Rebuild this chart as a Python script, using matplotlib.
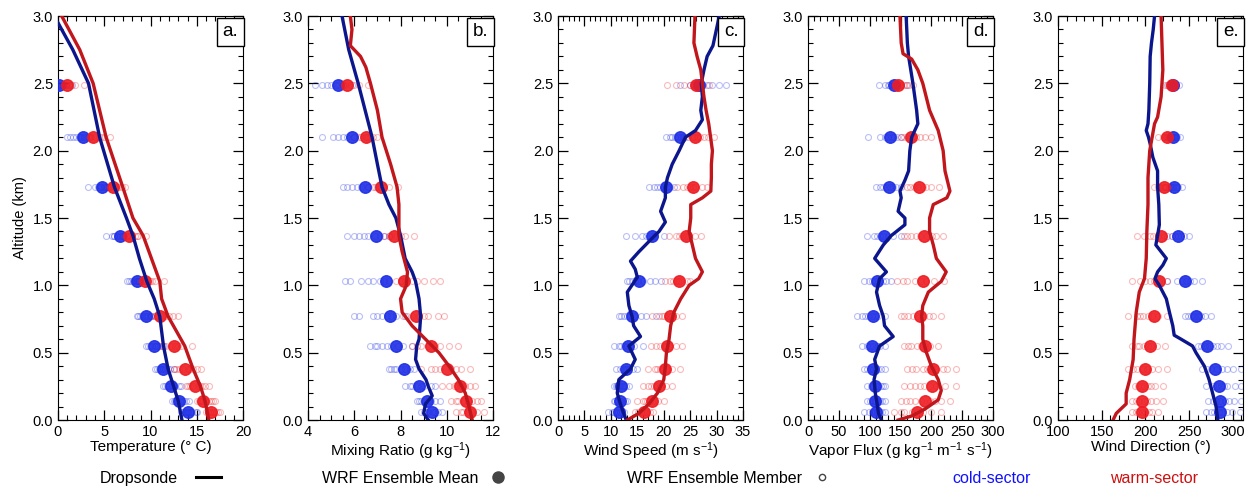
import numpy as np
import matplotlib
matplotlib.use('Agg')
import matplotlib.pyplot as plt
from matplotlib.lines import Line2D
from matplotlib.ticker import MultipleLocator

plt.rcParams['font.family'] = ['Liberation Sans', 'DejaVu Sans']
plt.rcParams['mathtext.default'] = 'regular'

# altitude levels (km) of the WRF ensemble samples
ens_z = [0.06, 0.14, 0.25, 0.38, 0.55, 0.77, 1.03, 1.37, 1.73, 2.10, 2.49]

# ---------------- a. temperature ----------------
temp_cold_z = [0.0, 0.14, 0.25, 0.38, 0.55, 0.77, 0.9, 1.03, 1.2, 1.37, 1.5, 1.73, 2.1, 2.5, 2.75, 2.95]
temp_cold_x = [13.4, 13.0, 12.5, 11.9, 11.4, 11.0, 10.4, 9.6, 8.8, 8.1, 7.4, 6.1, 4.5, 3.3, 1.6, 0.0]
temp_warm_z = [0.0, 0.14, 0.25, 0.38, 0.55, 0.77, 0.9, 1.03, 1.2, 1.37, 1.5, 1.73, 2.1, 2.5, 2.75, 3.0]
temp_warm_x = [16.3, 15.9, 15.4, 14.6, 13.7, 11.9, 11.2, 11.0, 10.1, 9.2, 8.1, 7.0, 5.2, 3.8, 2.35, 0.4]
temp_cold_mean = [14.1, 13.1, 12.2, 11.3, 10.4, 9.5, 8.5, 6.7, 4.8, 2.7, 0.1]
temp_warm_mean = [16.5, 15.7, 14.8, 13.7, 12.5, 11.0, 9.4, 7.7, 5.9, 3.8, 1.0]
temp_cold_mem = [[13.3, 13.5, 13.7, 13.9, 14.1, 14.3, 14.5, 14.9, 15.0],
                 [12.3, 12.5, 12.7, 12.9, 13.2, 13.4, 13.6, 13.8, 14.2],
                 [11.3, 11.6, 11.8, 12.0, 12.3, 12.5, 12.7, 13.1, 13.3],
                 [10.5, 10.7, 10.9, 11.1, 11.4, 11.6, 11.9, 12.1, 12.5],
                 [9.5, 9.7, 9.9, 10.2, 10.5, 10.6, 10.8, 11.2, 11.5],
                 [8.5, 8.7, 8.9, 9.1, 9.4, 9.6, 9.9, 10.1, 10.5],
                 [7.5, 7.7, 7.9, 8.1, 8.4, 8.6, 8.8, 9.3, 9.5],
                 [5.2, 5.8, 6.0, 6.1, 6.4, 6.7, 6.9, 7.1, 7.5],
                 [3.2, 4.0, 4.3, 4.5, 4.7, 5.1, 5.3, 5.5],
                 [1.0, 1.3, 1.6, 2.0, 2.3, 2.5, 2.8, 3.2, 3.5],
                 [0.0, 0.3, 0.5, 0.7, 0.9, 1.2, 1.5]]
temp_warm_mem = [[16.0, 16.2, 16.4, 16.6, 16.9, 17.1, 17.3, 17.5],
                 [15.0, 15.2, 15.4, 15.6, 16.0, 16.3, 16.5, 16.7, 17.0],
                 [13.8, 14.1, 14.3, 14.6, 15.1, 15.4, 15.6, 15.9, 16.3],
                 [12.5, 12.8, 13.1, 13.5, 14.0, 14.3, 14.6, 15.0, 15.5],
                 [11.0, 11.4, 11.7, 12.2, 12.7, 13.0, 13.3, 14.5],
                 [10.0, 10.4, 10.7, 11.2, 11.7, 12.0, 12.4, 13.0],
                 [8.5, 8.8, 9.1, 9.5, 9.9, 10.2, 10.5, 11.5],
                 [7.0, 7.3, 7.6, 7.8, 8.3, 8.5, 8.7, 9.5],
                 [5.0, 5.3, 5.6, 6.0, 6.4, 6.6, 6.9, 7.2],
                 [3.0, 3.3, 3.6, 4.0, 4.4, 4.7, 5.0, 5.6],
                 [0.5, 0.7, 0.9, 1.4, 1.8, 2.8]]

# ---------------- b. mixing ratio ----------------
mix_cold_z = [0.0, 0.05, 0.12, 0.18, 0.25, 0.3, 0.38, 0.45, 0.55, 0.6, 0.77, 0.9, 1.03, 1.1, 1.2, 1.37, 1.5, 1.6, 1.73, 1.9, 2.1, 2.5, 2.75, 3.0]
mix_cold_x = [9.2, 9.0, 9.08, 9.37, 9.2, 9.1, 8.8, 8.65, 8.7, 8.8, 8.87, 8.8, 8.65, 8.5, 8.2, 8.0, 7.8, 7.5, 7.2, 7.0, 6.77, 6.17, 5.76, 5.47]
mix_warm_z = [0.0, 0.1, 0.2, 0.3, 0.4, 0.5, 0.6, 0.7, 0.8, 0.9, 1.0, 1.1, 1.25, 1.37, 1.5, 1.6, 1.73, 1.9, 2.1, 2.3, 2.5, 2.62, 2.7, 2.78, 2.9, 3.0]
mix_warm_x = [11.1, 10.96, 10.8, 10.5, 10.1, 9.66, 9.08, 8.5, 8.07, 8.0, 8.25, 8.3, 8.07, 7.93, 7.93, 7.93, 7.85, 7.57, 7.2, 7.0, 6.7, 6.5, 6.27, 5.83, 5.9, 5.83]
mix_cold_mean = [9.35, 9.15, 8.8, 8.15, 7.8, 7.55, 7.35, 6.95, 6.45, 5.9, 5.3]
mix_warm_mean = [11.0, 10.85, 10.55, 10.0, 9.3, 8.65, 8.15, 7.7, 7.15, 6.5, 5.7]
mix_cold_mem = [[8.9, 9.0, 9.1, 9.2, 9.4, 9.5, 9.6, 9.8],
                [8.7, 8.8, 8.9, 9.0, 9.2, 9.3, 9.5, 9.7],
                [8.2, 8.4, 8.5, 8.7, 8.9, 9.0, 9.3, 9.5],
                [7.5, 7.6, 7.7, 7.8, 8.0, 8.2, 8.4, 8.6],
                [6.7, 6.9, 7.0, 7.2, 7.4, 7.6, 7.9, 8.1, 8.5],
                [6.0, 6.2, 6.8, 7.0, 7.2, 7.4, 7.6, 7.8, 8.2],
                [5.6, 5.8, 6.3, 6.6, 6.8, 7.1, 7.3, 7.5, 8.0],
                [5.7, 6.0, 6.2, 6.4, 6.6, 6.9, 7.1, 7.3, 7.5],
                [5.5, 5.7, 5.9, 6.1, 6.3, 6.6, 7.0],
                [4.6, 5.1, 5.3, 5.5, 5.7, 6.0, 6.5],
                [4.3, 4.6, 4.8, 5.0, 5.2, 5.5, 5.9]]
mix_warm_mem = [[10.4, 10.6, 10.7, 10.9, 11.1, 11.3, 11.6],
                [10.2, 10.4, 10.5, 10.7, 10.9, 11.1, 11.3, 11.5],
                [9.8, 10.1, 10.3, 10.4, 10.6, 10.8, 11.0, 11.2],
                [8.9, 9.3, 9.5, 9.7, 10.2, 10.4, 10.6, 11.0],
                [8.5, 8.7, 8.9, 9.2, 9.5, 9.7, 10.1, 10.5],
                [8.1, 8.3, 8.5, 8.8, 9.0, 9.2, 9.6, 9.9],
                [7.8, 8.0, 8.2, 8.5, 8.7, 9.0, 9.4, 9.7],
                [7.3, 7.5, 7.6, 7.8, 8.0, 8.2, 8.6],
                [6.6, 6.8, 6.9, 7.1, 7.3, 7.5, 7.9],
                [6.0, 6.2, 6.3, 6.6, 6.7, 6.8, 7.0],
                [5.3, 5.5, 5.6, 5.8, 6.0, 6.2, 6.6]]

# ---------------- c. wind speed ----------------
ws_cold_z = [0.0, 0.05, 0.12, 0.2, 0.3, 0.38, 0.45, 0.55, 0.62, 0.7, 0.77, 0.85, 0.95, 1.06, 1.12, 1.18, 1.25, 1.35, 1.4, 1.47, 1.55, 1.65, 1.73, 1.8, 1.9, 2.0, 2.1, 2.15, 2.23, 2.3, 2.4, 2.5, 2.6, 2.7, 2.78, 3.0]
ws_cold_x = [12.9, 12.4, 11.8, 11.2, 11.5, 13.7, 14.6, 13.4, 15.6, 14.3, 14.0, 13.4, 13.1, 15.0, 14.6, 13.7, 15.3, 17.8, 19.1, 20.3, 19.4, 20.3, 20.3, 20.7, 21.6, 22.9, 24.1, 26.0, 27.3, 27.0, 27.3, 27.1, 27.6, 28.2, 29.3, 30.5]
ws_warm_z = [0.0, 0.05, 0.12, 0.2, 0.3, 0.4, 0.5, 0.6, 0.7, 0.8, 0.9, 1.0, 1.05, 1.1, 1.2, 1.3, 1.4, 1.5, 1.6, 1.65, 1.7, 1.8, 1.9, 2.0, 2.2, 2.3, 2.4, 2.5, 2.6, 2.7, 2.8, 3.0]
ws_warm_x = [13.1, 15.3, 17.2, 18.8, 20.0, 20.3, 20.5, 21.0, 21.3, 21.9, 23.2, 24.8, 26.6, 27.3, 26.0, 25.4, 24.8, 25.1, 25.1, 27.3, 28.9, 29.0, 29.0, 29.2, 28.5, 28.0, 27.6, 27.3, 27.0, 26.3, 25.7, 25.9]
ws_cold_mean = [11.5, 11.7, 12.0, 12.9, 13.3, 14.0, 15.4, 17.8, 20.5, 23.0, 26.7]
ws_warm_mean = [16.3, 17.7, 19.1, 20.3, 20.6, 21.1, 22.9, 24.2, 25.5, 25.9, 26.1]
ws_cold_mem = [[9.5, 10.3, 10.6, 10.9, 11.4, 11.8, 12.1, 12.5],
               [10.5, 10.8, 11.1, 11.4, 11.7, 12.0, 12.6, 13.0],
               [10.5, 10.9, 11.2, 11.6, 12.1, 12.4, 12.9, 13.5],
               [11.0, 11.7, 12.2, 12.6, 13.1, 13.5, 14.1, 15.0],
               [10.5, 11.6, 12.0, 12.4, 13.0, 13.6, 14.4, 16.0],
               [11.5, 12.0, 12.4, 13.0, 13.6, 14.4, 15.6, 16.7, 18.5],
               [13.0, 13.5, 13.9, 14.5, 15.1, 16.0, 17.3, 18.4, 19.5],
               [12.8, 14.6, 15.9, 16.6, 17.3, 17.9, 18.4, 20.0],
               [17.2, 18.1, 18.7, 19.3, 20.0, 20.6, 21.1, 22.0],
               [20.5, 21.2, 21.6, 22.1, 22.7, 23.3, 23.7, 24.5],
               [23.0, 24.9, 25.8, 26.6, 27.4, 28.2, 29.1, 30.4, 31.8]]
ws_warm_mem = [[14.5, 15.1, 15.6, 16.0, 16.5, 16.9, 17.4, 18.0],
               [15.0, 16.1, 16.5, 16.9, 17.4, 18.1, 18.9, 20.0],
               [16.0, 17.1, 17.6, 18.1, 18.8, 19.4, 20.4, 21.5],
               [17.0, 18.3, 18.8, 19.3, 19.9, 20.6, 21.6, 23.0],
               [17.5, 18.6, 19.3, 20.0, 20.5, 20.9, 22.3, 23.5],
               [17.7, 19.1, 19.7, 20.1, 20.8, 21.4, 22.4, 23.5],
               [20.2, 21.1, 21.7, 22.3, 22.7, 23.1, 24.3, 25.0],
               [21.0, 22.4, 22.9, 23.4, 24.2, 24.8, 25.9, 27.0],
               [22.5, 23.6, 24.4, 25.0, 25.5, 25.9, 27.3, 28.2],
               [24.0, 25.3, 25.8, 26.3, 26.9, 27.6, 28.4, 29.5],
               [20.7, 22.4, 23.9, 25.0, 25.6, 26.4, 26.9, 28.5]]

# ---------------- d. vapor flux ----------------
vf_cold_z = [0.0, 0.05, 0.12, 0.2, 0.3, 0.38, 0.45, 0.55, 0.62, 0.7, 0.77, 0.85, 0.95, 1.05, 1.1, 1.2, 1.3, 1.37, 1.45, 1.5, 1.55, 1.65, 1.7, 1.78, 1.85, 2.0, 2.1, 2.2, 2.3, 2.5, 2.7, 2.8, 3.0]
vf_cold_x = [119, 114, 112, 109, 107, 111, 108, 116, 138, 124, 122, 116, 111, 116, 127, 108, 122, 135, 157, 157, 146, 151, 149, 157, 163, 165, 168, 178, 176, 170, 163, 161, 159]
vf_warm_z = [0.0, 0.03, 0.08, 0.15, 0.22, 0.3, 0.4, 0.5, 0.6, 0.7, 0.77, 0.85, 0.95, 1.03, 1.1, 1.2, 1.3, 1.4, 1.5, 1.6, 1.65, 1.7, 1.85, 2.0, 2.15, 2.3, 2.5, 2.6, 2.68, 2.72, 2.8, 3.0]
vf_warm_x = [146, 168, 189, 211, 216, 211, 200, 192, 186, 186, 184, 186, 195, 216, 224, 208, 203, 197, 197, 203, 225, 230, 222, 219, 211, 197, 186, 178, 168, 154, 151, 149]
vf_cold_mean = [110, 109, 109, 106, 104, 105, 112, 123, 131, 133, 140]
vf_warm_mean = [177, 190, 201, 202, 189, 181, 187, 188, 180, 167, 146]
vf_cold_mem = [[90, 98, 103, 108, 112, 117, 120, 125],
               [95, 100, 105, 108, 113, 117, 120, 125],
               [95, 102, 106, 110, 114, 118, 121, 125],
               [90, 96, 101, 105, 110, 114, 119, 125],
               [88, 96, 101, 106, 111, 114, 117, 125],
               [80, 87, 93, 97, 103, 108, 114, 125],
               [90, 98, 104, 109, 116, 121, 127, 135],
               [95, 107, 112, 116, 122, 129, 138, 150],
               [110, 117, 122, 127, 133, 137, 143, 150],
               [97, 116, 124, 130, 136, 140, 144, 150],
               [115, 125, 129, 132, 138, 143, 150, 160]]
vf_warm_mem = [[140, 150, 156, 168, 176, 186, 199, 215],
               [150, 159, 165, 174, 183, 197, 205, 215, 230],
               [155, 165, 173, 182, 188, 197, 207, 222, 240],
               [160, 168, 175, 186, 193, 201, 207, 218, 225, 240],
               [155, 162, 167, 176, 183, 189, 198, 210],
               [150, 156, 162, 170, 177, 188, 196, 203, 215],
               [145, 154, 161, 174, 183, 191, 204, 220],
               [155, 161, 167, 175, 182, 193, 201, 208, 218],
               [160, 166, 171, 179, 186, 191, 199, 212],
               [150, 156, 161, 169, 175, 181, 189, 200],
               [140, 144, 147, 151, 155, 159, 163, 170]]

# ---------------- e. wind direction ----------------
wd_cold_z = [0.0, 0.1, 0.2, 0.3, 0.4, 0.5, 0.55, 0.6, 0.63, 0.7, 0.8, 0.9, 1.0, 1.05, 1.1, 1.15, 1.2, 1.25, 1.3, 1.37, 1.45, 1.6, 1.73, 1.85, 1.95, 2.05, 2.1, 2.15, 2.2, 2.3, 2.5, 2.7, 2.8, 2.9, 3.0]
wd_cold_x = [283, 281, 277, 273, 267.6, 258, 254, 241, 233, 231.4, 227.6, 224, 216, 211, 214, 220, 224, 218, 212, 214, 216, 215.4, 214, 214, 208.6, 205.5, 203.6, 201, 203, 204, 205, 205.5, 207, 209, 210.5]
wd_warm_z = [0.0, 0.05, 0.12, 0.2, 0.3, 0.45, 0.6, 0.8, 0.95, 1.05, 1.2, 1.4, 1.6, 1.8, 2.0, 2.2, 2.25, 2.4, 2.6, 2.8, 3.0]
wd_warm_x = [163, 166.7, 178, 178, 182, 186, 187, 189.5, 193, 199, 201, 201.7, 203, 203, 205, 210.5, 214, 218, 220, 219, 218]
wd_cold_mean = [286, 285, 284, 280, 271, 258, 245, 237, 233, 232, 232]
wd_warm_mean = [196, 196, 196, 200, 205, 210, 216, 218, 221, 225, 230]
wd_cold_mem = [[270, 275, 279, 284, 288, 293, 299, 308],
               [272, 277, 281, 286, 291, 296, 302, 310],
               [270, 277, 282, 287, 290, 293, 303, 310],
               [265, 271, 275, 282, 288, 293, 300, 310],
               [260, 264, 268, 273, 278, 282, 287, 295],
               [245, 249, 252, 256, 260, 264, 268, 275],
               [225, 236, 242, 246, 251, 256, 265],
               [225, 231, 234, 237, 241, 244, 250],
               [222, 227, 229, 232, 235, 237, 242],
               [225, 229, 230, 233, 235, 236, 240],
               [225, 229, 230, 232, 234, 235, 238]]
wd_warm_mem = [[185, 189, 192, 196, 200, 204, 208, 215],
               [185, 189, 193, 198, 202, 207, 212, 220],
               [188, 192, 195, 199, 203, 207, 211, 220],
               [180, 186, 190, 197, 202, 208, 215, 225],
               [185, 190, 193, 198, 203, 207, 213, 222],
               [180, 190, 194, 197, 203, 208, 215, 225],
               [185, 194, 200, 205, 210, 216, 225],
               [190, 199, 205, 209, 215, 221, 230],
               [210, 215, 217, 220, 223, 224, 228],
               [215, 220, 221, 224, 226, 227, 232],
               [222, 226, 227, 230, 232, 232, 235]]

panels = [
    ('a.', 'Temperature (° C)', (0, 20), 5, 1,
     temp_cold_z, temp_cold_x, temp_warm_z, temp_warm_x,
     temp_cold_mean, temp_warm_mean, temp_cold_mem, temp_warm_mem),
    ('b.', 'Mixing Ratio (g kg$^{-1}$)', (4, 12), 2, 0.5,
     mix_cold_z, mix_cold_x, mix_warm_z, mix_warm_x,
     mix_cold_mean, mix_warm_mean, mix_cold_mem, mix_warm_mem),
    ('c.', 'Wind Speed (m s$^{-1}$)', (0, 35), 5, 1,
     ws_cold_z, ws_cold_x, ws_warm_z, ws_warm_x,
     ws_cold_mean, ws_warm_mean, ws_cold_mem, ws_warm_mem),
    ('d.', 'Vapor Flux (g kg$^{-1}$ m$^{-1}$ s$^{-1}$)', (0, 300), 50, 10,
     vf_cold_z, vf_cold_x, vf_warm_z, vf_warm_x,
     vf_cold_mean, vf_warm_mean, vf_cold_mem, vf_warm_mem),
    ('e.', 'Wind Direction (°)', (100, 312), 50, 10,
     wd_cold_z, wd_cold_x, wd_warm_z, wd_warm_x,
     wd_cold_mean, wd_warm_mean, wd_cold_mem, wd_warm_mem),
]

cold_line = '#0c168c'
warm_line = '#c0161c'
cold_dot = '#1e2ee6'
warm_dot = '#ee1c22'

fig = plt.figure(figsize=(12.47, 4.93), dpi=100)

for i, (lab, xlab, xlim, maj, mnr, cz, cx, wz, wx, cm, wm, cmem, wmem) in enumerate(panels):
    ax = fig.add_axes([0.0465 + i * 0.2005, 0.148, 0.1484, 0.8195])
    for color, mem in ((cold_dot, cmem), (warm_dot, wmem)):
        for z, vals in zip(ens_z, mem):
            ax.plot(vals, [z] * len(vals), 'o', ms=4.3, mfc='none', mec=color,
                    mew=0.8, alpha=0.3, zorder=2)
    ax.plot(cm, ens_z, 'o', ms=8.3, color=cold_dot, alpha=0.9, zorder=3)
    ax.plot(wm, ens_z, 'o', ms=8.3, color=warm_dot, alpha=0.9, zorder=3)
    ax.plot(cx, cz, color=cold_line, lw=2.4, zorder=4)
    ax.plot(wx, wz, color=warm_line, lw=2.4, zorder=4)

    ax.set_xlim(*xlim)
    ax.set_ylim(0, 3)
    ax.xaxis.set_major_locator(MultipleLocator(maj))
    ax.xaxis.set_minor_locator(MultipleLocator(mnr))
    ax.yaxis.set_major_locator(MultipleLocator(0.5))
    ax.yaxis.set_minor_locator(MultipleLocator(0.1))
    ax.yaxis.set_major_formatter(matplotlib.ticker.FormatStrFormatter('%.1f'))
    ax.tick_params(which='both', direction='in', top=True, right=True, labelsize=10.5)
    ax.tick_params(which='major', length=7, width=0.9)
    ax.tick_params(which='minor', length=3.5, width=0.8)
    ax.set_xlabel(xlab, fontsize=11, labelpad=1)
    if i == 0:
        ax.set_ylabel('Altitude (km)', fontsize=10.5)
    ax.text(0.975, 0.982, lab, transform=ax.transAxes, ha='right', va='top',
            fontsize=13.5, zorder=10,
            bbox=dict(boxstyle='square,pad=0.3', fc='white', ec='black', lw=1))

# legend row
ly = 0.015
fig.text(0.080, ly, 'Dropsonde', fontsize=11.5, va='bottom')
fig.add_artist(Line2D([0.157, 0.177], [ly + 0.017, ly + 0.017], color='black', lw=2.2))
fig.text(0.258, ly, 'WRF Ensemble Mean', fontsize=11.5, va='bottom')
fig.add_artist(Line2D([0.399], [ly + 0.018], marker='o', ms=8, color='#444444'))
fig.text(0.503, ly, 'WRF Ensemble Member', fontsize=11.5, va='bottom')
fig.add_artist(Line2D([0.659], [ly + 0.018], marker='o', ms=4.5, mfc='none', mec='#444444', mew=1))
fig.text(0.764, ly, 'cold-sector', fontsize=11.5, va='bottom', color='#1010ff')
fig.text(0.890, ly, 'warm-sector', fontsize=11.5, va='bottom', color='#cc1010')

fig.savefig('out.png', dpi=100)
